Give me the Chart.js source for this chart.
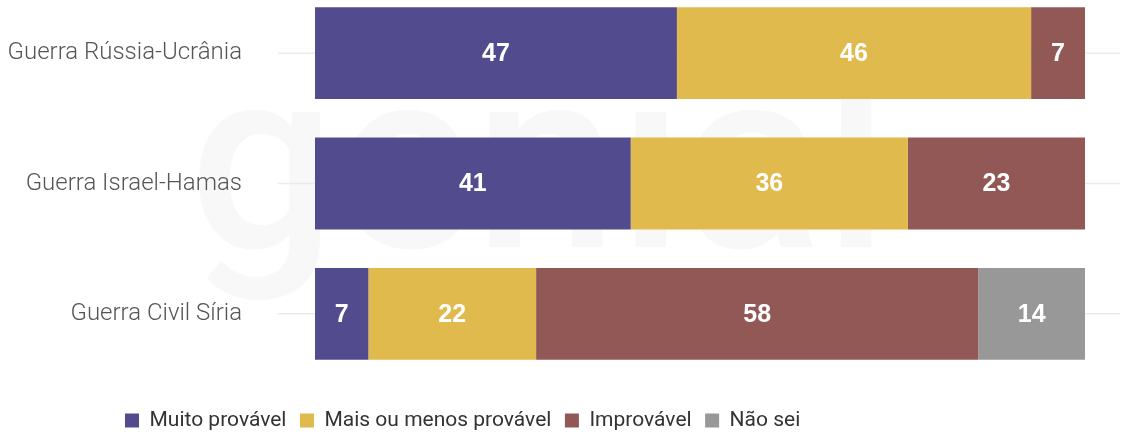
<!DOCTYPE html>
<html>
<head>
<meta charset="utf-8">
<script src="https://cdn.jsdelivr.net/npm/chart.js"></script>
<style>
  html, body { margin: 0; padding: 0; background: #fff; overflow: hidden; width: 1122px; height: 432px; }
  #wrap { position: absolute; left: 0; top: -12px; width: 1122px; height: 453px; }
</style>
</head>
<body>
<div id="wrap"><canvas id="chartCanvas" width="1122" height="453"></canvas></div>
<script>
const categories = ['Guerra Rússia-Ucrânia', 'Guerra Israel-Hamas', 'Guerra Civil Síria'];
const muitoProvavel = [47, 41, 7];
const maisOuMenos = [46, 36, 22];
const improvavel = [7, 23, 58];
const naoSei = [0, 0, 14];
const seriesNames = ['Muito provável', 'Mais ou menos provável', 'Improvável', 'Não sei'];

const series = [muitoProvavel, maisOuMenos, improvavel, naoSei];
const colors = ['#524c8e', '#e0ba4c', '#925856', '#989898'];

// every row is drawn as a full bar (the last one adds up to 101)
const rowTotals = categories.map((c, i) => series.reduce((s, arr) => s + arr[i], 0));

const datasets = series.map((arr, k) => ({
  label: seriesNames[k],
  backgroundColor: colors[k],
  data: arr.map((v, i) => v * 100 / rowTotals[i]),
  raw: arr,
  barPercentage: 0.705,
  categoryPercentage: 1
}));

const background = {
  id: 'background',
  beforeDraw(chart) {
    const ctx = chart.ctx;
    ctx.save();
    ctx.font = '500 255px Roboto';
    ctx.fillStyle = '#f8f8f8';
    ctx.textBaseline = 'alphabetic';
    const w = ctx.measureText('genial').width;
    ctx.translate(189, 259);
    ctx.scale(700 / w, 1);
    ctx.fillText('genial', 0, 0);
    ctx.restore();
  },
  beforeDatasetsDraw(chart) {
    // thin lines through the middle of each row
    const ctx = chart.ctx;
    const y = chart.scales.y;
    ctx.save();
    ctx.strokeStyle = '#ebebeb';
    ctx.lineWidth = 1.5;
    categories.forEach((c, i) => {
      const py = y.getPixelForValue(i);
      ctx.beginPath();
      ctx.moveTo(278, py);
      ctx.lineTo(1120, py);
      ctx.stroke();
    });
    ctx.restore();
  },
  afterLayout(chart) {
    // legend starts under the labels, not at the canvas edge
    chart.legend.left += 111.5;
    chart.legend.right += 111.5;
  }
};

const barLabels = {
  id: 'barLabels',
  afterDatasetsDraw(chart) {
    const ctx = chart.ctx;
    ctx.save();
    ctx.font = 'bold 25px "Liberation Sans", Arial, sans-serif';
    ctx.fillStyle = '#ffffff';
    ctx.textAlign = 'center';
    ctx.textBaseline = 'middle';
    chart.data.datasets.forEach((ds, k) => {
      chart.getDatasetMeta(k).data.forEach((bar, i) => {
        const v = ds.raw[i];
        if (!v) return;
        ctx.fillText(String(v), (bar.x + bar.base) / 2, bar.y + 1);
      });
    });
    ctx.restore();
  }
};

const ctx = document.getElementById('chartCanvas').getContext('2d');
const chart = new Chart(ctx, {
  type: 'bar',
  data: { labels: categories, datasets: datasets },
  plugins: [background, barLabels],
  options: {
    indexAxis: 'y',
    responsive: false,
    animation: false,
    layout: { padding: { left: 0, right: 37, top: 0, bottom: 0 } },
    scales: {
      x: {
        stacked: true, min: 0, max: 100,
        ticks: { display: false },
        grid: { display: false },
        border: { display: false },
        afterFit(s) { s.height = 17.5; }
      },
      y: {
        stacked: true,
        grid: { display: false, tickLength: 0 },
        border: { display: false },
        ticks: {
          padding: 73,
          color: '#555555',
          font: { family: 'Roboto', size: 24, weight: '300' }
        },
        afterFit(s) {
          s.width = 315;
          s.paddingTop = 0;
          s.paddingBottom = 0;
        }
      }
    },
    plugins: {
      tooltip: { enabled: false },
      legend: {
        position: 'bottom',
        align: 'start',
        labels: {
          boxWidth: 14, boxHeight: 14, padding: 13.5,
          color: '#333333',
          font: { family: 'Roboto', size: 21 }
        }
      }
    }
  }
});
</script>
</body>
</html>
